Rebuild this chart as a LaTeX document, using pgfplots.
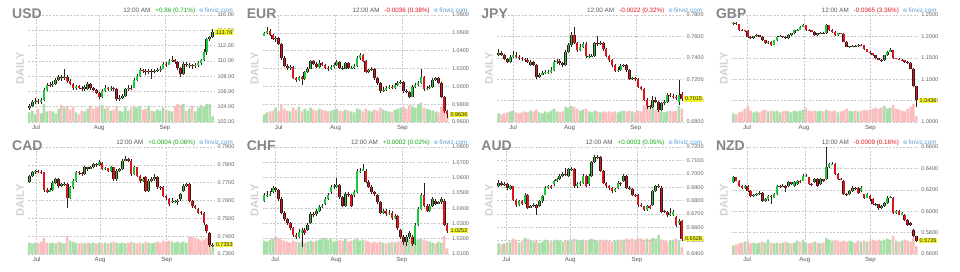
\documentclass[border=0pt]{standalone}
\usepackage{pgfplots}
\pgfplotsset{compat=1.18}
\usepackage{pgfplotstable}
\usepackage{fontspec}
\setmainfont{Liberation Sans}
\newfontfamily\dejavu{DejaVu Sans}

\definecolor{upc}{RGB}{30,200,60}
\definecolor{dnc}{RGB}{220,20,30}
\definecolor{outl}{RGB}{50,25,25}
\definecolor{volup}{RGB}{168,222,168}
\definecolor{voldn}{RGB}{250,190,190}
\definecolor{gridc}{RGB}{200,200,200}
\definecolor{tickc}{RGB}{100,100,100}
\definecolor{chgup}{RGB}{20,170,20}
\definecolor{chgdn}{RGB}{225,20,30}
\definecolor{fvc}{RGB}{90,160,215}
\definecolor{ttl}{RGB}{135,135,135}
\definecolor{daily}{RGB}{210,210,210}
\definecolor{valy}{RGB}{245,245,40}

\pgfkeys{/pgf/number format/assume math mode=true}

\pgfplotstableread{
x o h l c v
0 103.8 104.4 103.6 104.1 50
1 104.1 104.9 104.0 104.6 60
2 104.6 105.2 104.4 104.8 40
3 104.8 105.0 104.3 104.6 70
4 104.6 105.2 104.4 104.9 45
5 104.9 106.4 104.8 106.2 95
6 106.2 107.1 106.0 106.9 55
7 106.9 107.2 106.6 106.8 60
8 106.8 107.3 106.6 107.0 55
9 107.0 107.8 106.9 107.5 45
10 107.5 108.2 107.3 107.9 70
11 107.9 108.1 107.4 107.7 90
12 107.7 109.0 107.5 107.9 75
13 107.9 108.1 107.1 107.3 85
14 107.3 107.6 106.8 107.0 65
15 107.0 107.1 106.2 106.4 80
16 106.4 106.9 106.2 106.7 50
17 106.7 106.9 106.3 106.5 40
18 106.5 106.7 106.1 106.3 60
19 106.3 106.9 106.1 106.6 55
20 106.3 107.2 106.2 107.0 70
21 107.0 107.1 106.2 106.4 85
22 106.4 106.6 106.0 106.2 70
23 106.2 106.3 105.6 105.8 75
24 105.8 105.9 105.0 105.3 85
25 105.3 106.3 105.2 106.1 90
26 106.1 106.8 105.9 106.4 70
27 106.4 106.6 106.0 106.3 80
28 106.3 106.7 106.1 106.5 60
29 106.5 106.6 106.0 106.3 65
30 106.3 106.4 104.7 105.0 85
31 105.0 105.5 104.7 105.2 60
32 105.2 105.7 105.0 105.4 55
33 105.4 106.5 105.3 106.3 80
34 106.3 106.8 106.1 106.5 60
35 106.5 106.8 106.2 106.45 75
36 106.5 107.7 106.4 107.5 85
37 107.5 108.3 107.3 108.0 75
38 108.0 109.1 107.9 108.8 80
39 108.8 109.0 108.4 108.7 65
40 108.7 108.9 108.2 108.5 70
41 108.5 109.0 108.3 108.7 85
42 108.7 108.9 107.6 108.6 60
43 108.6 109.0 108.4 108.7 55
44 108.7 109.1 108.5 108.8 65
45 108.8 109.3 108.6 109.0 60
46 109.0 109.8 108.9 109.6 75
47 109.6 109.9 109.2 109.5 65
48 109.5 110.3 109.4 110.0 60
49 110.0 110.6 109.8 110.1 55
50 110.1 110.3 109.6 109.9 80
51 109.9 110.0 108.8 109.1 95
52 109.1 109.2 107.9 108.3 90
53 108.3 109.8 108.2 109.6 95
54 109.6 109.8 109.2 109.4 60
55 109.4 109.7 109.1 109.45 70
56 109.4 109.6 109.0 109.3 85
57 109.3 109.7 109.1 109.4 55
58 109.4 110.0 109.2 109.7 75
59 109.7 110.3 109.5 110.1 90
60 110.1 111.5 110.0 111.2 80
61 111.2 113.0 110.8 112.8 95
62 112.8 113.3 112.6 113.1 95
63 113.1 114.2 113.0 113.76 30
}\usd

\pgfplotstableread{
x o h l c v
0 1.0570 1.0610 1.0560 1.0594 40
1 1.0594 1.0660 1.0585 1.0625 50
2 1.0625 1.0640 1.0560 1.0576 55
3 1.0576 1.0590 1.0515 1.0530 60
4 1.0530 1.0560 1.0500 1.0540 75
5 1.0540 1.0550 1.0465 1.0480 55
6 1.0480 1.0490 1.0300 1.0320 90
7 1.0320 1.0335 1.0215 1.0230 70
8 1.0230 1.0245 1.0180 1.0205 60
9 1.0205 1.0240 1.0185 1.0215 55
10 1.0215 1.0225 1.0080 1.0095 75
11 1.0095 1.0110 1.0050 1.0075 65
12 1.0075 1.0120 1.0060 1.0105 80
13 1.0105 1.0120 1.0020 1.0080 55
14 1.0080 1.0175 1.0070 1.0160 70
15 1.0160 1.0215 1.0150 1.0200 60
16 1.0200 1.0300 1.0190 1.0280 75
17 1.0280 1.0300 1.0240 1.0255 65
18 1.0255 1.0270 1.0205 1.0220 60
19 1.0220 1.0300 1.0210 1.0260 70
20 1.0260 1.0275 1.0225 1.0240 65
21 1.0240 1.0255 1.0195 1.0210 60
22 1.0210 1.0230 1.0170 1.0200 55
23 1.0200 1.0240 1.0185 1.0220 60
24 1.0220 1.0260 1.0205 1.0240 65
25 1.0240 1.0290 1.0230 1.0275 70
26 1.0275 1.0285 1.0195 1.0210 60
27 1.0210 1.0230 1.0185 1.0200 55
28 1.0200 1.0275 1.0190 1.0260 65
29 1.0260 1.0270 1.0190 1.0205 60
30 1.0205 1.0230 1.0190 1.0210 55
31 1.0210 1.0245 1.0200 1.0225 50
32 1.0225 1.0340 1.0215 1.0320 70
33 1.0320 1.0370 1.0300 1.0350 65
34 1.0350 1.0360 1.0270 1.0280 55
35 1.0280 1.0290 1.0150 1.0165 70
36 1.0165 1.0200 1.0150 1.0185 60
37 1.0185 1.0215 1.0170 1.0200 55
38 1.0200 1.0210 1.0075 1.0090 65
39 1.0090 1.0100 1.0020 1.0040 60
40 1.0040 1.0050 0.9930 0.9945 75
41 0.9945 0.9990 0.9935 0.9960 65
42 0.9960 1.0000 0.9945 0.9980 60
43 0.9980 1.0020 0.9970 0.9995 55
44 0.9995 1.0015 0.9970 0.9985 50
45 0.9985 1.0040 0.9975 1.0015 65
46 1.0015 1.0055 1.0005 1.0035 70
47 1.0035 1.0070 1.0025 1.0050 75
48 1.0050 1.0060 0.9930 0.9945 80
49 0.9945 0.9965 0.9920 0.9940 70
50 0.9940 0.9950 0.9865 0.9885 90
51 0.9885 1.0010 0.9875 0.9995 85
52 0.9995 1.0035 0.9985 1.0015 75
53 1.0015 1.0060 1.0000 1.0040 95
54 1.0040 1.0190 1.0030 1.0110 100
55 1.0110 1.0120 0.9950 0.9965 75
56 0.9965 1.0000 0.9960 0.9980 70
57 0.9980 1.0010 0.9965 0.9995 65
58 0.9995 1.0090 0.9985 1.0075 60
59 1.0075 1.0110 1.0060 1.0095 55
60 1.0095 1.0110 1.0025 1.0040 50
61 1.0040 1.0050 0.9865 0.9880 80
62 0.9880 0.9890 0.9700 0.9720 85
63 0.9720 0.9735 0.9640 0.9685 40
}\eur

\pgfplotstableread{
x o h l c v
0 0.7430 0.7480 0.7420 0.7445 45
1 0.7445 0.7460 0.7415 0.7430 40
2 0.7430 0.7440 0.7375 0.7390 45
3 0.7390 0.7400 0.7350 0.7365 50
4 0.7365 0.7425 0.7355 0.7410 55
5 0.7410 0.7460 0.7400 0.7426 60
6 0.7426 0.7450 0.7395 0.7411 50
7 0.7411 0.7430 0.7380 0.7395 45
8 0.7395 0.7410 0.7370 0.7385 50
9 0.7385 0.7400 0.7365 0.7380 55
10 0.7380 0.7395 0.7350 0.7364 50
11 0.7335 0.7375 0.7320 0.7360 60
12 0.7360 0.7370 0.7320 0.7335 55
13 0.7335 0.7345 0.7205 0.7225 65
14 0.7225 0.7260 0.7215 0.7240 50
15 0.7240 0.7275 0.7235 0.7255 45
16 0.7255 0.7285 0.7245 0.7265 55
17 0.7265 0.7290 0.7250 0.7268 50
18 0.7268 0.7310 0.7255 0.7290 60
19 0.7290 0.7380 0.7280 0.7365 70
20 0.7365 0.7390 0.7345 0.7370 55
21 0.7370 0.7385 0.7335 0.7350 50
22 0.7350 0.7360 0.7315 0.7330 55
23 0.7330 0.7470 0.7320 0.7457 80
24 0.7457 0.7540 0.7445 0.7520 75
25 0.7520 0.7640 0.7505 0.7615 85
26 0.7615 0.7690 0.7530 0.7540 80
27 0.7540 0.7550 0.7455 0.7470 70
28 0.7470 0.7525 0.7460 0.7505 60
29 0.7505 0.7550 0.7490 0.7530 65
30 0.7530 0.7545 0.7400 0.7415 70
31 0.7415 0.7435 0.7400 0.7418 55
32 0.7418 0.7440 0.7405 0.7420 50
33 0.7420 0.7550 0.7410 0.7535 60
34 0.7535 0.7600 0.7510 0.7525 55
35 0.7525 0.7555 0.7515 0.7535 50
36 0.7535 0.7545 0.7465 0.7480 55
37 0.7480 0.7490 0.7405 0.7420 50
38 0.7420 0.7430 0.7360 0.7375 55
39 0.7375 0.7385 0.7315 0.7330 50
40 0.7330 0.7340 0.7265 0.7280 55
41 0.7280 0.7310 0.7270 0.7290 50
42 0.7290 0.7340 0.7280 0.7320 55
43 0.7320 0.7345 0.7310 0.7330 60
44 0.7330 0.7340 0.7270 0.7285 55
45 0.7285 0.7295 0.7190 0.7205 60
46 0.7205 0.7225 0.7195 0.7210 55
47 0.7210 0.7225 0.7185 0.7200 50
48 0.7200 0.7210 0.7115 0.7130 60
49 0.7130 0.7140 0.7095 0.7110 55
50 0.7110 0.7120 0.6995 0.7010 85
51 0.7010 0.7020 0.6925 0.6945 90
52 0.6945 0.6960 0.6920 0.6940 70
53 0.6940 0.7045 0.6930 0.7010 85
54 0.7010 0.7030 0.6975 0.6990 65
55 0.6990 0.7000 0.6895 0.6915 60
56 0.6915 0.6990 0.6905 0.6975 55
57 0.6975 0.7005 0.6960 0.6990 50
58 0.6990 0.7070 0.6980 0.7055 55
59 0.7055 0.7070 0.7030 0.7045 60
60 0.7045 0.7060 0.7015 0.7030 55
61 0.7030 0.7050 0.7010 0.7025 60
62 0.6990 0.7195 0.6960 0.7050 85
63 0.7060 0.7080 0.7000 0.7015 70
}\jpy

\pgfplotstableread{
x o h l c v
0 1.2280 1.2330 1.2270 1.2305 45
1 1.2305 1.2330 1.2270 1.2290 40
2 1.2290 1.2300 1.2135 1.2150 50
3 1.2150 1.2170 1.2125 1.2145 55
4 1.2145 1.2160 1.2110 1.2130 70
5 1.2130 1.2140 1.1970 1.1990 85
6 1.1990 1.2000 1.1935 1.1955 60
7 1.1955 1.2020 1.1945 1.2000 50
8 1.2000 1.2050 1.1990 1.2030 55
9 1.2030 1.2040 1.1975 1.1990 50
10 1.1990 1.2000 1.1895 1.1910 60
11 1.1910 1.1920 1.1820 1.1840 65
12 1.1840 1.1890 1.1830 1.1875 55
13 1.1875 1.1885 1.1770 1.1800 60
14 1.1800 1.1925 1.1790 1.1910 55
15 1.1910 1.2010 1.1900 1.1990 60
16 1.1990 1.2025 1.1975 1.2005 50
17 1.2005 1.2015 1.1960 1.1990 55
18 1.1990 1.2000 1.1940 1.1955 60
19 1.1955 1.2045 1.1945 1.2030 55
20 1.2030 1.2090 1.2020 1.2070 50
21 1.2070 1.2160 1.2060 1.2148 60
22 1.2148 1.2180 1.2130 1.2160 55
23 1.2160 1.2245 1.2150 1.2227 60
24 1.2227 1.2290 1.2210 1.2266 65
25 1.2266 1.2275 1.2135 1.2150 75
26 1.2150 1.2170 1.2125 1.2145 60
27 1.2145 1.2160 1.2095 1.2110 55
28 1.2110 1.2120 1.2010 1.2030 60
29 1.2030 1.2090 1.2020 1.2070 55
30 1.2070 1.2110 1.2055 1.2090 60
31 1.2090 1.2105 1.2050 1.2070 55
32 1.2070 1.2290 1.2060 1.2260 65
33 1.2260 1.2270 1.2135 1.2150 60
34 1.2150 1.2165 1.2090 1.2110 55
35 1.2110 1.2120 1.2015 1.2030 60
36 1.2030 1.2085 1.2020 1.2070 50
37 1.2070 1.2090 1.2045 1.2065 55
38 1.2065 1.2075 1.1860 1.1875 60
39 1.1875 1.1885 1.1745 1.1760 70
40 1.1760 1.1785 1.1740 1.1765 60
41 1.1765 1.1790 1.1755 1.1775 55
42 1.1775 1.1800 1.1750 1.1770 60
43 1.1770 1.1830 1.1760 1.1810 55
44 1.1810 1.1820 1.1770 1.1790 60
45 1.1790 1.1800 1.1685 1.1700 65
46 1.1700 1.1710 1.1625 1.1640 60
47 1.1640 1.1650 1.1590 1.1605 65
48 1.1605 1.1615 1.1550 1.1565 70
49 1.1565 1.1575 1.1470 1.1485 75
50 1.1485 1.1500 1.1440 1.1460 70
51 1.1460 1.1475 1.1400 1.1445 75
52 1.1445 1.1575 1.1435 1.1560 85
53 1.1560 1.1655 1.1545 1.1640 70
54 1.1640 1.1720 1.1630 1.1680 75
55 1.1680 1.1690 1.1470 1.1485 90
56 1.1485 1.1500 1.1465 1.1480 70
57 1.1480 1.1495 1.1445 1.1460 65
58 1.1460 1.1480 1.1430 1.1445 60
59 1.1445 1.1455 1.1390 1.1405 55
60 1.1405 1.1415 1.1365 1.1385 70
61 1.1385 1.1395 1.1235 1.1250 80
62 1.1250 1.1260 1.0820 1.0840 95
63 1.0840 1.0850 1.0360 1.0508 30
}\gbp

\pgfplotstableread{
x o h l c v
0 0.7705 0.7745 0.7700 0.7739 60
1 0.7739 0.7765 0.7730 0.7758 55
2 0.7758 0.7772 0.7750 0.7764 60
3 0.7764 0.7770 0.7752 0.7762 55
4 0.7762 0.7770 0.7748 0.7758 65
5 0.7758 0.7762 0.7650 0.7660 85
6 0.7660 0.7668 0.7640 0.7650 60
7 0.7650 0.7670 0.7645 0.7660 55
8 0.7660 0.7708 0.7652 0.7700 60
9 0.7700 0.7728 0.7692 0.7720 55
10 0.7720 0.7728 0.7672 0.7680 65
11 0.7680 0.7700 0.7675 0.7690 60
12 0.7690 0.7705 0.7680 0.7695 55
13 0.7695 0.7700 0.7560 0.7616 95
14 0.7616 0.7680 0.7608 0.7673 70
15 0.7673 0.7718 0.7665 0.7711 65
16 0.7711 0.7765 0.7705 0.7758 60
17 0.7758 0.7765 0.7745 0.7755 55
18 0.7755 0.7762 0.7740 0.7749 60
19 0.7749 0.7795 0.7742 0.7786 55
20 0.7786 0.7790 0.7768 0.7777 60
21 0.7777 0.7795 0.7775 0.7786 55
22 0.7786 0.7812 0.7780 0.7805 60
23 0.7805 0.7812 0.7790 0.7800 55
24 0.7800 0.7825 0.7795 0.7815 60
25 0.7810 0.7815 0.7770 0.7777 55
26 0.7777 0.7790 0.7770 0.7780 60
27 0.7780 0.7785 0.7760 0.7768 55
28 0.7768 0.7795 0.7760 0.7786 60
29 0.7786 0.7790 0.7710 0.7720 65
30 0.7720 0.7775 0.7712 0.7768 60
31 0.7768 0.7785 0.7760 0.7777 55
32 0.7777 0.7830 0.7770 0.7824 60
33 0.7824 0.7848 0.7820 0.7834 55
34 0.7834 0.7840 0.7815 0.7824 60
35 0.7824 0.7830 0.7740 0.7749 65
36 0.7749 0.7795 0.7742 0.7786 60
37 0.7786 0.7790 0.7730 0.7739 55
38 0.7739 0.7745 0.7700 0.7711 60
39 0.7711 0.7730 0.7705 0.7720 55
40 0.7730 0.7735 0.7645 0.7654 65
41 0.7654 0.7718 0.7648 0.7711 60
42 0.7711 0.7730 0.7705 0.7720 55
43 0.7720 0.7750 0.7712 0.7730 60
44 0.7730 0.7740 0.7665 0.7673 65
45 0.7673 0.7682 0.7660 0.7671 60
46 0.7673 0.7680 0.7618 0.7626 70
47 0.7626 0.7632 0.7605 0.7616 65
48 0.7607 0.7612 0.7570 0.7578 70
49 0.7590 0.7612 0.7585 0.7597 65
50 0.7595 0.7605 0.7585 0.7597 60
51 0.7597 0.7608 0.7575 0.7599 65
52 0.7607 0.7642 0.7600 0.7635 60
53 0.7654 0.7690 0.7648 0.7682 65
54 0.7682 0.7700 0.7675 0.7692 60
55 0.7692 0.7698 0.7590 0.7597 90
56 0.7597 0.7602 0.7560 0.7569 90
57 0.7569 0.7575 0.7550 0.7559 85
58 0.7550 0.7556 0.7522 0.7531 80
59 0.7533 0.7540 0.7520 0.7531 70
60 0.7531 0.7538 0.7465 0.7474 75
61 0.7465 0.7470 0.7418 0.7427 85
62 0.7417 0.7422 0.7340 0.7351 85
63 0.7345 0.7362 0.7338 0.7353 40
}\cad

\pgfplotstableread{
x o h l c v
0 1.0450 1.0500 1.0440 1.0484 70
1 1.0482 1.0510 1.0470 1.0484 65
2 1.0484 1.0515 1.0478 1.0495 75
3 1.0506 1.0545 1.0498 1.0529 80
4 1.0529 1.0540 1.0505 1.0518 90
5 1.0518 1.0525 1.0450 1.0461 80
6 1.0461 1.0470 1.0360 1.0371 75
7 1.0371 1.0380 1.0315 1.0326 70
8 1.0326 1.0335 1.0290 1.0303 65
9 1.0303 1.0312 1.0258 1.0269 60
10 1.0269 1.0278 1.0212 1.0224 70
11 1.0224 1.0235 1.0200 1.0213 65
12 1.0213 1.0265 1.0205 1.0247 60
13 1.0236 1.0270 1.0145 1.0258 70
14 1.0258 1.0268 1.0225 1.0236 60
15 1.0258 1.0305 1.0250 1.0292 65
16 1.0303 1.0372 1.0295 1.0360 70
17 1.0362 1.0375 1.0340 1.0360 65
18 1.0360 1.0395 1.0350 1.0382 70
19 1.0382 1.0420 1.0372 1.0405 75
20 1.0405 1.0430 1.0400 1.0416 80
21 1.0427 1.0475 1.0418 1.0461 85
22 1.0461 1.0500 1.0452 1.0484 75
23 1.0506 1.0552 1.0495 1.0540 80
24 1.0540 1.0555 1.0525 1.0542 65
25 1.0540 1.0600 1.0530 1.0552 70
26 1.0552 1.0560 1.0462 1.0473 75
27 1.0473 1.0482 1.0405 1.0416 70
28 1.0416 1.0505 1.0408 1.0495 80
29 1.0495 1.0505 1.0470 1.0484 65
30 1.0484 1.0492 1.0405 1.0416 70
31 1.0484 1.0518 1.0475 1.0506 75
32 1.0506 1.0655 1.0498 1.0642 80
33 1.0642 1.0665 1.0630 1.0646 70
34 1.0646 1.0692 1.0640 1.0653 75
35 1.0646 1.0655 1.0565 1.0574 70
36 1.0574 1.0582 1.0530 1.0540 65
37 1.0540 1.0550 1.0495 1.0506 60
38 1.0506 1.0515 1.0482 1.0495 65
39 1.0484 1.0492 1.0428 1.0439 60
40 1.0439 1.0448 1.0360 1.0371 65
41 1.0371 1.0395 1.0362 1.0382 60
42 1.0382 1.0392 1.0350 1.0360 55
43 1.0360 1.0385 1.0355 1.0371 60
44 1.0371 1.0380 1.0325 1.0337 65
45 1.0337 1.0360 1.0330 1.0348 60
46 1.0348 1.0355 1.0258 1.0269 65
47 1.0258 1.0265 1.0200 1.0213 70
48 1.0213 1.0222 1.0160 1.0179 75
49 1.0179 1.0225 1.0150 1.0213 70
50 1.0213 1.0248 1.0200 1.0236 75
51 1.0213 1.0222 1.0150 1.0168 65
52 1.0168 1.0305 1.0160 1.0292 70
53 1.0292 1.0405 1.0285 1.0394 75
54 1.0394 1.0500 1.0385 1.0484 80
55 1.0484 1.0565 1.0405 1.0416 75
56 1.0416 1.0425 1.0372 1.0382 70
57 1.0382 1.0428 1.0375 1.0416 65
58 1.0416 1.0472 1.0408 1.0461 60
59 1.0450 1.0458 1.0418 1.0427 55
60 1.0427 1.0450 1.0425 1.0439 65
61 1.0439 1.0472 1.0430 1.0461 60
62 1.0450 1.0458 1.0280 1.0292 95
63 1.0292 1.0300 1.0236 1.0252 30
}\chf

\pgfplotstableread{
x o h l c v
0 0.6908 0.6950 0.6900 0.6933 55
1 0.6933 0.6945 0.6905 0.6915 50
2 0.6915 0.6935 0.6905 0.6921 55
3 0.6921 0.6928 0.6880 0.6890 60
4 0.6883 0.6918 0.6875 0.6905 65
5 0.6905 0.6912 0.6795 0.6806 80
6 0.6806 0.6815 0.6755 0.6768 75
7 0.6768 0.6805 0.6760 0.6794 60
8 0.6794 0.6802 0.6765 0.6775 65
9 0.6781 0.6855 0.6772 0.6844 85
10 0.6844 0.6852 0.6735 0.6743 80
11 0.6743 0.6765 0.6745 0.6756 70
12 0.6756 0.6778 0.6755 0.6768 65
13 0.6768 0.6775 0.6690 0.6743 75
14 0.6756 0.6805 0.6748 0.6794 60
15 0.6794 0.6842 0.6785 0.6832 65
16 0.6844 0.6905 0.6838 0.6895 75
17 0.6895 0.6918 0.6888 0.6908 70
18 0.6908 0.6915 0.6885 0.6895 65
19 0.6921 0.6955 0.6912 0.6946 70
20 0.6946 0.6968 0.6935 0.6959 75
21 0.6959 0.6995 0.6950 0.6984 70
22 0.6984 0.7010 0.6975 0.6997 65
23 0.6997 0.7040 0.6980 0.6990 70
24 0.6984 0.7045 0.6975 0.7035 75
25 0.7033 0.7050 0.7020 0.7035 70
26 0.7035 0.7042 0.6895 0.6908 80
27 0.6908 0.6935 0.6895 0.6921 75
28 0.6921 0.6945 0.6912 0.6933 70
29 0.6933 0.6995 0.6925 0.6984 75
30 0.6984 0.6992 0.6898 0.6908 70
31 0.6921 0.6995 0.6912 0.6984 75
32 0.6984 0.7095 0.6975 0.7086 80
33 0.7086 0.7140 0.7078 0.7124 75
34 0.7122 0.7138 0.7110 0.7124 70
35 0.7124 0.7130 0.7010 0.7022 75
36 0.7022 0.7030 0.6922 0.6933 70
37 0.6933 0.6942 0.6895 0.6908 75
38 0.6908 0.6918 0.6880 0.6895 70
39 0.6895 0.6902 0.6858 0.6870 65
40 0.6870 0.6895 0.6862 0.6883 70
41 0.6895 0.6945 0.6885 0.6933 75
42 0.6933 0.6942 0.6910 0.6921 70
43 0.6946 0.7000 0.6938 0.6984 75
44 0.6984 0.6990 0.6885 0.6895 80
45 0.6897 0.6910 0.6880 0.6895 75
46 0.6883 0.6890 0.6835 0.6844 80
47 0.6844 0.6852 0.6825 0.6838 75
48 0.6844 0.6850 0.6755 0.6768 85
49 0.6770 0.6780 0.6752 0.6768 80
50 0.6756 0.6762 0.6720 0.6730 75
51 0.6730 0.6768 0.6722 0.6756 80
52 0.6756 0.6765 0.6735 0.6743 75
53 0.6768 0.6880 0.6760 0.6870 85
54 0.6870 0.6918 0.6862 0.6908 80
55 0.6906 0.6925 0.6895 0.6908 100
56 0.6895 0.6905 0.6705 0.6717 75
57 0.6719 0.6730 0.6705 0.6717 70
58 0.6717 0.6725 0.6680 0.6692 65
59 0.6692 0.6742 0.6685 0.6705 70
60 0.6692 0.6728 0.6685 0.6717 75
61 0.6679 0.6686 0.6605 0.6616 80
62 0.6629 0.6658 0.6620 0.6646 70
63 0.6646 0.6652 0.6500 0.6514 35
}\aud

\pgfplotstableread{
x o h l c v
0 0.6269 0.6330 0.6260 0.6316 45
1 0.6316 0.6322 0.6278 0.6285 50
2 0.6285 0.6292 0.6228 0.6237 55
3 0.6237 0.6245 0.6212 0.6221 60
4 0.6221 0.6248 0.6212 0.6237 65
5 0.6237 0.6245 0.6180 0.6190 70
6 0.6190 0.6198 0.6132 0.6143 55
7 0.6143 0.6162 0.6135 0.6150 60
8 0.6150 0.6170 0.6140 0.6158 55
9 0.6158 0.6185 0.6150 0.6174 60
10 0.6174 0.6182 0.6085 0.6095 65
11 0.6095 0.6122 0.6090 0.6111 60
12 0.6111 0.6155 0.6100 0.6143 75
13 0.6143 0.6150 0.6064 0.6130 60
14 0.6127 0.6168 0.6120 0.6158 55
15 0.6158 0.6248 0.6150 0.6237 60
16 0.6237 0.6245 0.6218 0.6228 55
17 0.6228 0.6250 0.6222 0.6237 60
18 0.6237 0.6245 0.6175 0.6221 65
19 0.6237 0.6280 0.6228 0.6269 60
20 0.6269 0.6275 0.6245 0.6253 55
21 0.6237 0.6280 0.6228 0.6269 60
22 0.6253 0.6295 0.6245 0.6285 70
23 0.6285 0.6292 0.6260 0.6269 65
24 0.6285 0.6345 0.6278 0.6332 75
25 0.6330 0.6348 0.6318 0.6332 60
26 0.6316 0.6322 0.6245 0.6253 55
27 0.6255 0.6265 0.6240 0.6253 60
28 0.6269 0.6310 0.6260 0.6300 65
29 0.6300 0.6308 0.6228 0.6237 60
30 0.6253 0.6312 0.6245 0.6300 55
31 0.6300 0.6305 0.6275 0.6285 60
32 0.6300 0.6600 0.6292 0.6411 85
33 0.6411 0.6455 0.6400 0.6442 75
34 0.6440 0.6458 0.6430 0.6442 70
35 0.6442 0.6450 0.6338 0.6348 75
36 0.6348 0.6356 0.6290 0.6300 70
37 0.6302 0.6312 0.6288 0.6300 65
38 0.6285 0.6292 0.6148 0.6158 70
39 0.6160 0.6170 0.6145 0.6158 65
40 0.6158 0.6200 0.6150 0.6190 70
41 0.6190 0.6232 0.6182 0.6221 65
42 0.6221 0.6228 0.6195 0.6206 60
43 0.6221 0.6228 0.6165 0.6174 70
44 0.6190 0.6232 0.6182 0.6221 65
45 0.6158 0.6165 0.6118 0.6127 70
46 0.6127 0.6168 0.6120 0.6158 65
47 0.6143 0.6150 0.6100 0.6111 70
48 0.6111 0.6120 0.6055 0.6064 75
49 0.6066 0.6075 0.6050 0.6064 70
50 0.6064 0.6072 0.6010 0.6032 75
51 0.6032 0.6060 0.6025 0.6048 70
52 0.6048 0.6090 0.6040 0.6079 75
53 0.6079 0.6138 0.6070 0.6127 80
54 0.6127 0.6140 0.6120 0.6130 75
55 0.6127 0.6135 0.5975 0.5985 95
56 0.5985 0.6012 0.5978 0.6001 70
57 0.6001 0.6008 0.5960 0.5969 65
58 0.5969 0.5995 0.5962 0.5985 70
59 0.5969 0.5975 0.5912 0.5922 75
60 0.5922 0.5930 0.5865 0.5874 70
61 0.5890 0.5898 0.5865 0.5874 65
62 0.5827 0.5835 0.5755 0.5764 85
63 0.5764 0.5772 0.5710 0.5726 40
}\nzd

\pgfplotsset{
  base/.style={scale only axis, width=186pt, height=107pt, anchor=south west,
    xmin=-0.5, xmax=63.5},
  vol/.style={base, ymin=0, ymax=560, hide axis},
  price/.style={base,
    axis line style={draw=none}, major tick length=0pt,
    xmajorgrids, ymajorgrids,
    grid style={gridc, dash pattern=on 2pt off 1.5pt, line width=0.5pt},
    yticklabel pos=right,
    xticklabels={Jul,Aug,Sep},
    x tick label style={font=\fontsize{6}{6}\selectfont, text=black!65},
    y tick label style={font=\fontsize{5.5}{6}\selectfont, text=tickc},
    scaled y ticks=false,
  },
  prec/.style={yticklabel={\pgfmathprintnumber[fixed,fixed zerofill,precision=#1]{\tick}}},
  ebar/.style={draw=none, mark=none, forget plot,
    error bars/.cd, y dir=plus, y explicit, error mark=none,
    error bar style={#1}},
}

\newcommand\volumes[1]{%
  \addplot[ybar, bar width=2.5pt, bar shift=0pt, fill=volup, draw=none,
    restrict expr to domain={\thisrow{c}-\thisrow{o}}{0:1000}]
    table[x=x, y=v] {#1};
  \addplot[ybar, bar width=2.5pt, bar shift=0pt, fill=voldn, draw=none,
    restrict expr to domain={\thisrow{c}-\thisrow{o}}{-1000:-0.00001}]
    table[x=x, y=v] {#1};
}

\newcommand\candles[1]{%
  \addplot[ebar={draw=outl, line width=0.5pt}]
    table[x=x, y=l, y error expr=\thisrow{h}-\thisrow{l}] {#1};
  \addplot[restrict expr to domain={\thisrow{c}-\thisrow{o}}{0:1000},
    ebar={draw=outl, line width=2.6pt}]
    table[x=x, y=o, y error expr=\thisrow{c}-\thisrow{o}] {#1};
  \addplot[restrict expr to domain={\thisrow{c}-\thisrow{o}}{0:1000},
    ebar={draw=upc, line width=1.6pt}]
    table[x=x, y=o, y error expr=\thisrow{c}-\thisrow{o}] {#1};
  \addplot[restrict expr to domain={\thisrow{c}-\thisrow{o}}{-1000:-0.00001},
    ebar={draw=outl, line width=2.6pt}]
    table[x=x, y=c, y error expr=\thisrow{o}-\thisrow{c}] {#1};
  \addplot[restrict expr to domain={\thisrow{c}-\thisrow{o}}{-1000:-0.00001},
    ebar={draw=dnc, line width=1.6pt}]
    table[x=x, y=c, y error expr=\thisrow{o}-\thisrow{c}] {#1};
}

% #1 x, #2 y of bottom, #3 table, #4 axis options, #5 title, #6 change text, #7 value text, #8 value level
\newcommand\panel[8]{%
  \begin{axis}[vol, at={(#1pt,#2pt)}]
    \volumes{#3}
  \end{axis}
  \begin{axis}[price, at={(#1pt,#2pt)}, #4]
    \candles{#3}
    \coordinate (lastv) at (axis cs:63.5,#8);
  \end{axis}
  \node[anchor=west, fill=valy, inner sep=0.7pt, font=\fontsize{5.5}{6}\selectfont, text=black!85]
    at ([xshift=1pt]lastv) {#7};
  \node[anchor=base west, font=\bfseries\fontsize{14}{14}\selectfont, text=ttl, inner sep=0pt]
    at ([xshift=-16pt, yshift=-3pt]current axis.north west) {#5};
  \node[rotate=90, font=\bfseries\fontsize{11}{11}\selectfont, text=daily]
    at ([xshift=-8pt]current axis.west) {DAILY};
  \node[anchor=base east, font=\fontsize{6.3}{7}\selectfont, inner sep=0pt]
    at ([xshift=19pt, yshift=3pt]current axis.north east)
    {\textcolor{black!65}{12:00 AM}\hspace{5pt}#6\hspace{4pt}\textcolor{fvc}{{\dejavu\fontsize{5.5}{6}\selectfont ⊚}\,finviz.com}};
}

\begin{document}
\begin{tikzpicture}
\path[use as bounding box, fill=white] (0,0) rectangle (960pt,-271pt);

\panel{28}{-122}{\usd}{ymin=102, ymax=116, ytick={102,104,106,108,110,112,114,116}, prec=2, xtick={2.3,24,46.6}}
  {USD}{\textcolor{chgup}{+0.86 (0.71\%)}}{113.76}{113.76}
\panel{262.6}{-122}{\eur}{ymin=0.96, ymax=1.08, ytick={0.96,0.98,1.0,1.02,1.04,1.06,1.08}, prec=4, xtick={5,24.6,47.6}}
  {EUR}{\textcolor{chgdn}{-0.0036 (0.38\%)}}{0.9636}{0.9685}
\panel{497.2}{-122}{\jpy}{ymin=0.68, ymax=0.78, ytick={0.68,0.70,0.72,0.74,0.76,0.78}, prec=4, xtick={5,24.4,47.2}}
  {JPY}{\textcolor{chgdn}{-0.0022 (0.32\%)}}{0.7015}{0.7015}
\panel{731.8}{-122}{\gbp}{ymin=1.0, ymax=1.25, ytick={1.0,1.05,1.1,1.15,1.2,1.25}, prec=4, xtick={4.8,24.3,47.2}}
  {GBP}{\textcolor{chgdn}{-0.0365 (3.36\%)}}{1.0436}{1.0508}

\panel{28}{-254}{\cad}{ymin=0.73, ymax=0.79, ytick={0.73,0.74,0.75,0.76,0.77,0.78,0.79}, prec=4, xtick={2.5,24.3,47.2}}
  {CAD}{\textcolor{chgup}{+0.0004 (0.06\%)}}{0.7353}{0.7353}
\panel{262.6}{-254}{\chf}{ymin=1.01, ymax=1.08, ytick={1.01,1.02,1.03,1.04,1.05,1.06,1.07,1.08}, prec=4, xtick={3.8,24.7,47.4}}
  {CHF}{\textcolor{chgup}{+0.0002 (0.02\%)}}{1.0252}{1.0252}
\panel{497.2}{-254}{\aud}{ymin=0.64, ymax=0.72, ytick={0.64,0.65,0.66,0.67,0.68,0.69,0.70,0.71,0.72}, prec=4, xtick={2.7,24.6,47.6}}
  {AUD}{\textcolor{chgup}{+0.0003 (0.05\%)}}{0.6526}{0.6514}
\panel{731.8}{-254}{\nzd}{ymin=0.56, ymax=0.66, ytick={0.56,0.58,0.60,0.62,0.64,0.66}, prec=4, xtick={4.8,24.6,47.2}}
  {NZD}{\textcolor{chgdn}{-0.0009 (0.16\%)}}{0.5726}{0.5726}
\end{tikzpicture}
\end{document}
